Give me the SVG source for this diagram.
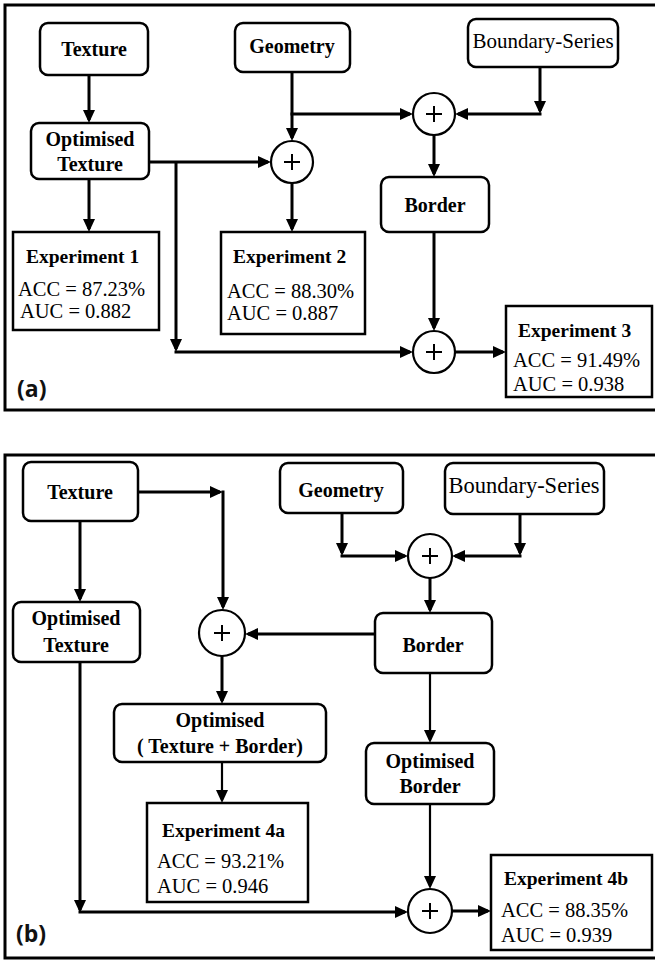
<svg xmlns="http://www.w3.org/2000/svg" width="655" height="961" viewBox="0 0 655 961">
<style>
.frame{fill:none;stroke:#000;stroke-width:3}
.node rect.r{fill:#fff;stroke:#000;stroke-width:2.5}
.exp rect{fill:#fff;stroke:#000;stroke-width:2.5}
.sum circle{fill:#fff;stroke:#000;stroke-width:2.2}
.sum path{stroke:#000;stroke-width:2;fill:none}
.c path{fill:none;stroke:#000;stroke-width:3}
.c path.thin{stroke-width:2.2}
.b{font-weight:bold;font-size:20px;text-anchor:middle}
.reg{font-size:21px;text-anchor:middle}
.t{font-weight:bold;font-size:19.5px}
.v{font-size:20.5px}
.lbl{font-weight:bold;font-size:23px;fill:#111}
</style>
<defs>
<marker id="ah" markerUnits="userSpaceOnUse" markerWidth="14" markerHeight="14" viewBox="0 0 14 14" refX="10" refY="7" orient="auto">
<path d="M0,1 L13,7 L0,13 z" fill="#000"/>
</marker>
</defs>
<rect width="655" height="961" fill="#fff"/>

<g font-family="'Liberation Serif', 'Times New Roman', serif" fill="#000">
<!-- Panel (a) -->
<rect class="frame" x="5" y="5" width="660" height="405"/>
<g id="a-texture" class="node"><rect class="r" x="40" y="23" width="108" height="52" rx="8"/><text class="b" x="94" y="56">Texture</text></g>
<g id="a-opttexture" class="node"><rect class="r" x="31" y="123" width="118" height="56" rx="8"/><text class="b" x="90" y="146">Optimised</text><text class="b" x="90" y="171">Texture</text></g>
<g id="a-geometry" class="node"><rect class="r" x="235" y="23" width="115" height="49" rx="8"/><text class="b" x="292" y="53">Geometry</text></g>
<g id="a-boundary" class="node"><rect class="r" x="468" y="19" width="150" height="48" rx="8"/><text class="reg" x="543" y="48">Boundary-Series</text></g>
<g id="a-sum1" class="sum"><circle cx="292" cy="162" r="21"/><path d="M284,162 H300 M292,154 V170"/></g>
<g id="a-sum2" class="sum"><circle cx="434" cy="114" r="21"/><path d="M426,114 H442 M434,106 V122"/></g>
<g id="a-border" class="node"><rect class="r" x="381" y="177" width="108" height="55" rx="8"/><text class="b" x="435" y="212">Border</text></g>
<g id="a-sum3" class="sum"><circle cx="434" cy="352" r="21"/><path d="M426,352 H442 M434,344 V360"/></g>
<g id="a-exp1" class="exp"><rect x="13" y="232" width="146" height="98"/><text class="t" x="26" y="263">Experiment 1</text><text class="v" x="18" y="296">ACC = 87.23%</text><text class="v" x="20" y="318">AUC = 0.882</text></g>
<g id="a-exp2" class="exp"><rect x="221" y="232" width="144" height="102"/><text class="t" x="233" y="263">Experiment 2</text><text class="v" x="227" y="298">ACC = 88.30%</text><text class="v" x="227" y="320">AUC = 0.887</text></g>
<g id="a-exp3" class="exp"><rect x="506" y="306" width="146" height="91"/><text class="t" x="518" y="337">Experiment 3</text><text class="v" x="513" y="367">ACC = 91.49%</text><text class="v" x="513" y="391">AUC = 0.938</text></g>

<!-- Panel (b) -->
<rect class="frame" x="5" y="455" width="660" height="503"/>
<g id="b-texture" class="node"><rect class="r" x="23" y="462" width="115" height="59" rx="8"/><text class="b" x="80" y="499">Texture</text></g>
<g id="b-opttexture" class="node"><rect class="r" x="13" y="602" width="127" height="60" rx="8"/><text class="b" x="76" y="625">Optimised</text><text class="b" x="76" y="652">Texture</text></g>
<g id="b-geometry" class="node"><rect class="r" x="280" y="463" width="123" height="50" rx="8"/><text class="b" x="341" y="497">Geometry</text></g>
<g id="b-boundary" class="node"><rect class="r" x="445" y="463" width="159" height="51" rx="8"/><text class="reg" x="524" y="493" style="font-size:22.5px">Boundary-Series</text></g>
<g id="b-sum1" class="sum"><circle cx="430" cy="556" r="22"/><path d="M422,556 H438 M430,548 V564"/></g>
<g id="b-border" class="node"><rect class="r" x="375" y="613" width="117" height="60" rx="8"/><text class="b" x="433" y="652">Border</text></g>
<g id="b-sum2" class="sum"><circle cx="222" cy="633" r="23"/><path d="M214,633 H230 M222,625 V641"/></g>
<g id="b-opttb" class="node"><rect class="r" x="114" y="704" width="212" height="58" rx="8"/><text class="b" x="220" y="727">Optimised</text><text class="b" x="220" y="753">( Texture + Border)</text></g>
<g id="b-exp4a" class="exp"><rect x="147" y="803" width="161" height="99"/><text class="t" x="162" y="837">Experiment 4a</text><text class="v" x="157" y="868">ACC = 93.21%</text><text class="v" x="157" y="893">AUC = 0.946</text></g>
<g id="b-optborder" class="node"><rect class="r" x="366" y="743" width="128" height="61" rx="8"/><text class="b" x="430" y="768">Optimised</text><text class="b" x="430" y="793">Border</text></g>
<g id="b-sum3" class="sum"><circle cx="430" cy="911" r="22"/><path d="M422,911 H438 M430,903 V919"/></g>
<g id="b-exp4b" class="exp"><rect x="491" y="855" width="161" height="95"/><text class="t" x="504" y="885">Experiment 4b</text><text class="v" x="501" y="917">ACC = 88.35%</text><text class="v" x="501" y="942">AUC  = 0.939</text></g>
</g>

<g font-family="'Open Sans', 'Liberation Sans', Arial, sans-serif">
<text class="lbl" x="17" y="397">(a)</text>
<text class="lbl" x="16" y="942">(b)</text>
</g>

<g id="a-connectors" class="c">
<path d="M89,75 V120" marker-end="url(#ah)"/>
<path d="M89,179 V229" marker-end="url(#ah)"/>
<path d="M149,162 H268" marker-end="url(#ah)"/>
<path d="M176,162 V349" marker-end="url(#ah)"/>
<path d="M174.5,352 H410" marker-end="url(#ah)"/>
<path d="M292,72 V138" marker-end="url(#ah)"/>
<path d="M290.5,114 H410" marker-end="url(#ah)"/>
<path d="M540,67 V111" marker-end="url(#ah)"/>
<path d="M541.5,114 H458" marker-end="url(#ah)"/>
<path d="M434,135 V174" marker-end="url(#ah)"/>
<path d="M292,183 V229" marker-end="url(#ah)"/>
<path d="M434,232 V328" marker-end="url(#ah)"/>
<path d="M455,352 H503" marker-end="url(#ah)"/>
</g>

<g id="b-connectors" class="c">
<path d="M80,521 V599" marker-end="url(#ah)"/>
<path d="M138,492 H220" marker-end="url(#ah)"/>
<path d="M223,490.5 V607" marker-end="url(#ah)"/>
<path d="M375,634 H248" marker-end="url(#ah)"/>
<path d="M222,656 V701" marker-end="url(#ah)"/>
<path class="thin" d="M222,762 V800" marker-end="url(#ah)"/>
<path d="M342,513 V553" marker-end="url(#ah)"/>
<path d="M340.5,556 H405" marker-end="url(#ah)"/>
<path d="M520,514 V553" marker-end="url(#ah)"/>
<path d="M521.5,556 H455" marker-end="url(#ah)"/>
<path d="M430,578 V610" marker-end="url(#ah)"/>
<path class="thin" d="M430,673 V740" marker-end="url(#ah)"/>
<path class="thin" d="M430,804 V886" marker-end="url(#ah)"/>
<path d="M80,662 V910" marker-end="url(#ah)"/>
<path d="M78.5,912 H405" marker-end="url(#ah)"/>
<path d="M452,911 H488" marker-end="url(#ah)"/>
</g>
</svg>
